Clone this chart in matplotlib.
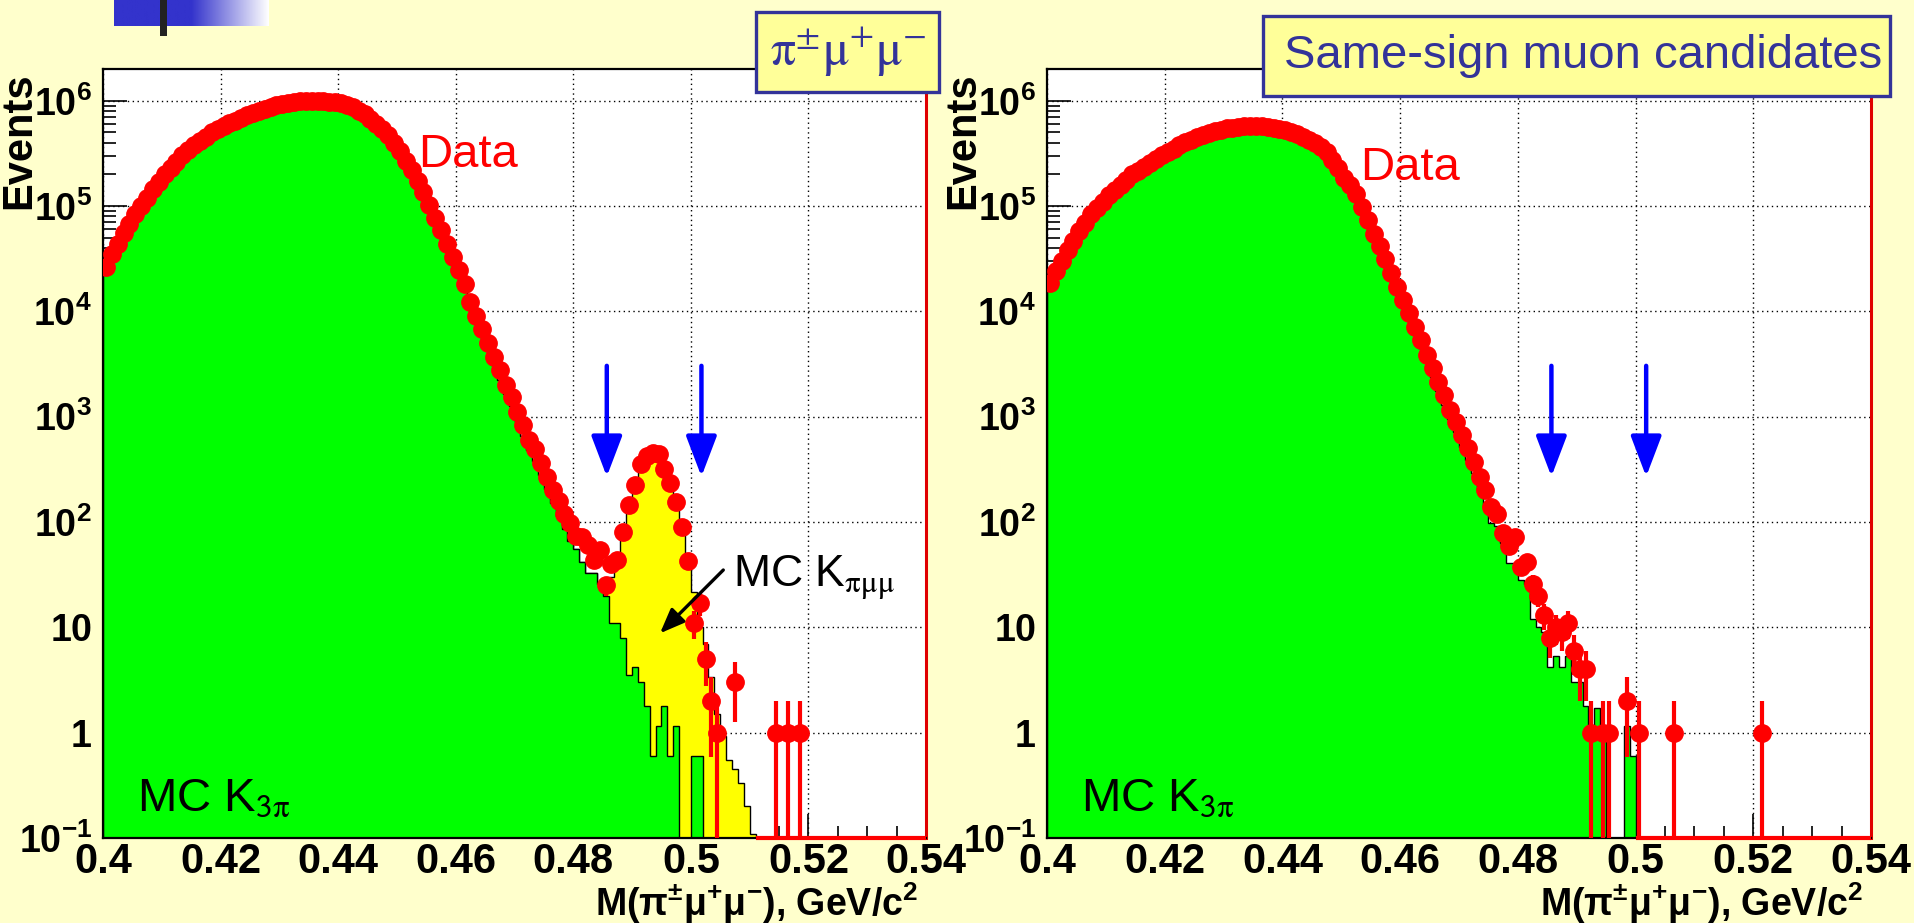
import numpy as np
import matplotlib
matplotlib.use('Agg')
import matplotlib.pyplot as plt
from matplotlib.patches import Rectangle, FancyArrowPatch
from matplotlib.ticker import MultipleLocator, LogLocator, NullFormatter

plt.rcParams['font.family'] = ['Liberation Sans', 'DejaVu Sans']
plt.rcParams['mathtext.fontset'] = 'custom'
plt.rcParams['mathtext.rm'] = 'Liberation Sans'
plt.rcParams['mathtext.bf'] = 'Liberation Sans:bold'
plt.rcParams['mathtext.it'] = 'Liberation Sans:italic'
NARROW = ['Liberation Sans Narrow', 'Liberation Sans']

#-----------------------------------------------------------------------------
# data: 1 MeV bins from 0.400 to 0.540 GeV/c^2

n_bins = 140
mass_lo, mass_hi = 0.40, 0.54

left_data = [26300, 34700, 43600, 55000, 67600, 83200, 100000, 120000, 145000, 170000,
             200000, 229000, 263000, 302000, 339000, 380000, 417000, 457000, 501000, 537000,
             575000, 617000, 646000, 692000, 724000, 759000, 794000, 832000, 871000, 902000,
             933000, 955000, 977000, 989000, 1000000, 1000000, 1000000, 989000, 977000, 966000,
             944000, 912000, 871000, 804000, 741000, 676000, 603000, 537000, 468000, 398000,
             331000, 269000, 219000, 174000, 135000, 102000, 77600, 58900, 43600, 33100,
             24500, 18200, 12300, 9100, 6760, 5010, 3720, 2750, 2000, 1550,
             1120, 830, 600, 490, 363, 270, 200, 158, 120, 98,
             73, 72, 60, 44, 54, 25, 40, 44, 81, 145,
             224, 355, 427, 457, 447, 316, 234, 155, 89, 43,
             11, 17, 5, 2, 1, 0, 0, 3, 0, 0,
             0, 0, 0, 0, 1, 0, 1, 0, 1, 0]

left_k3pi = [25000, 33000, 41500, 52000, 64000, 79000, 95000, 114000, 138000, 161000,
             190000, 218000, 250000, 287000, 322000, 361000, 396000, 434000, 476000, 510000,
             546000, 586000, 614000, 657000, 688000, 721000, 754000, 790000, 827000, 857000,
             886000, 907000, 928000, 940000, 950000, 950000, 950000, 940000, 928000, 918000,
             897000, 866000, 827000, 764000, 704000, 642000, 573000, 510000, 445000, 378000,
             314000, 256000, 208000, 165000, 128000, 97000, 73700, 56000, 41400, 31400,
             23000, 16500, 11000, 8000, 5800, 4300, 3100, 2250, 1650, 1250,
             900, 650, 480, 380, 280, 205, 150, 115, 85, 66,
             55, 42, 33, 33, 26, 20, 11, 11, 8, 3.5,
             4.2, 3.0, 1.8, 0.6, 1.15, 1.8, 0.6, 1.15, 0, 0,
             0.6, 0.6]

left_kpimumu = [0] * 85 + [4, 19, 37, 77, 146,
                           226, 337, 418, 444, 429, 328, 244, 164, 95, 40,
                           21, 9.4, 7, 3.4, 1.5, 0.92, 0.55, 0.45, 0.33, 0.2,
                           0.11]

right_data = [18600, 24000, 30200, 38000, 46800, 57500, 69200, 83200, 95500, 110000,
              126000, 141000, 158000, 178000, 200000, 216000, 234000, 257000, 282000, 302000,
              327000, 351000, 376000, 403000, 427000, 452000, 473000, 495000, 513000, 531000,
              546000, 556000, 565000, 573000, 575000, 575000, 570000, 562000, 552000, 540000,
              525000, 501000, 479000, 457000, 427000, 398000, 367000, 324000, 275000, 229000,
              186000, 158000, 129000, 97700, 74100, 53700, 41700, 31600, 22900, 17000,
              12900, 9550, 7080, 5370, 3890, 2880, 2140, 1600, 1170, 900,
              670, 500, 372, 270, 200, 139, 120, 79, 59, 72,
              37, 42, 26, 20, 13, 8, 10, 9, 11, 6,
              4, 4, 1, 0, 1, 1, 0, 0, 2, 0,
              1, 0, 0, 0, 0, 0, 1, 0, 0, 0,
              0, 0, 0, 0, 0, 0, 0, 0, 0, 0,
              0, 1]

right_k3pi = [17800, 23000, 29000, 36500, 45000, 55000, 66000, 80000, 91500, 105000,
              121000, 135000, 152000, 171000, 192000, 207000, 225000, 247000, 271000, 290000,
              314000, 337000, 361000, 387000, 410000, 434000, 454000, 475000, 492000, 510000,
              524000, 534000, 542000, 550000, 552000, 552000, 547000, 540000, 530000, 518000,
              504000, 481000, 460000, 439000, 410000, 382000, 352000, 311000, 264000, 220000,
              179000, 152000, 124000, 93800, 71100, 51500, 40000, 30300, 22000, 16300,
              12400, 8400, 6100, 4500, 3300, 2400, 1750, 1300, 950, 720,
              520, 390, 290, 200, 140, 98, 91, 63, 41, 41,
              28, 26, 12, 10, 9, 4.2, 5.4, 4.2, 5.4, 3,
              3, 1.8, 1.15, 1.7, 1.15, 0, 0, 0, 1.15, 0.6]

signal_window = [0.4857, 0.5018]

xticks = [0.40, 0.42, 0.44, 0.46, 0.48, 0.50, 0.52, 0.54]
xtick_labels = ['0.4', '0.42', '0.44', '0.46', '0.48', '0.5', '0.52', '0.54']
yticks = [1e-1, 1, 10, 1e2, 1e3, 1e4, 1e5, 1e6]
ytick_labels = [r'$\mathbf{10^{-1}}$', r'$\mathbf{1}$', r'$\mathbf{10}$', r'$\mathbf{10^{2}}$',
                r'$\mathbf{10^{3}}$', r'$\mathbf{10^{4}}$', r'$\mathbf{10^{5}}$', r'$\mathbf{10^{6}}$']

#-----------------------------------------------------------------------------

BG = '#FFFFCC'
BOXFILL = '#FFFF99'
NAVY = '#333399'
W, H = 1915, 923
floor = 1e-3

fig = plt.figure(figsize=(W / 100, H / 100), dpi=100, facecolor=BG)


def fig_rect(x0, y0, x1, y1):
    # pixel box (top-left origin) -> figure fraction
    return [x0 / W, 1 - y1 / H, (x1 - x0) / W, (y1 - y0) / H]


def pad(vals):
    v = np.zeros(n_bins)
    v[:len(vals)] = vals
    return v


edges = np.linspace(mass_lo, mass_hi, n_bins + 1)
centers = 0.5 * (edges[:-1] + edges[1:])


def draw_panel(ax, data, k3pi, kpimumu=None):
    data, k3pi = pad(data), pad(k3pi)
    total = k3pi + (pad(kpimumu) if kpimumu is not None else 0)

    ax.set_facecolor('white')
    ax.set_yscale('log')
    ax.set_xlim(mass_lo, mass_hi)
    ax.set_ylim(0.1, 2e6)
    ax.set_axisbelow(True)

    if kpimumu is not None:
        ax.stairs(np.where(total > 0, total, floor), edges, baseline=floor, fill=True,
                  color='#FFFF00', zorder=1)
        ax.stairs(np.where(total > 0, total, floor), edges, baseline=floor,
                  color='black', lw=1.0, zorder=1.1)
    ax.stairs(np.where(k3pi > 0, k3pi, floor), edges, baseline=floor, fill=True,
              color='#00FF00', zorder=1.2)
    ax.stairs(np.where(k3pi > 0, k3pi, floor), edges, baseline=floor,
              color='black', lw=1.0, zorder=1.3)

    # red data line along empty region at bottom
    last_mc = np.nonzero(total > 0)[0].max()
    ax.plot([edges[last_mc + 1], mass_hi], [0.1, 0.1], color='red', lw=3,
            zorder=3, clip_on=False, solid_capstyle='butt')

    m = data > 0
    y = data[m]
    err = np.sqrt(y)
    lo = np.minimum(err, y - floor)
    ax.errorbar(centers[m], y, yerr=[lo, err], fmt='o', color='red', ms=12.5,
                elinewidth=3.0, capsize=0, zorder=5)

    ax.set_xticks(xticks)
    ax.set_xticklabels(xtick_labels, fontsize=30, fontweight='bold', family=NARROW)
    ax.xaxis.set_minor_locator(MultipleLocator(0.005))
    ax.set_yticks(yticks)
    ax.set_yticklabels(ytick_labels, fontsize=27)
    ax.yaxis.set_minor_locator(LogLocator(base=10, subs=np.arange(2, 10)))
    ax.yaxis.set_minor_formatter(NullFormatter())
    ax.tick_params(which='both', direction='in', top=False, right=False, width=1.2)
    ax.tick_params(which='major', length=17)
    ax.tick_params(which='minor', length=9)
    ax.tick_params(axis='x', pad=3)
    ax.tick_params(axis='y', pad=8)
    ax.grid(True, which='major', color='black', linestyle=(0, (1, 2.5)), lw=1.0)
    for s in ax.spines.values():
        s.set_linewidth(1.6)
    ax.spines['right'].set_color('#E00000')
    ax.spines['right'].set_linewidth(2.2)

    for xc in signal_window:
        ax.add_patch(FancyArrowPatch((xc, 0.614), (xc, 0.470),
                                     transform=ax.get_xaxis_transform(),
                                     arrowstyle='-|>,head_length=25,head_width=9.5',
                                     mutation_scale=1, lw=3.2, color='#0000FF',
                                     shrinkA=0, shrinkB=0, zorder=6))

    ax.text(0.0413, 0.036, r'MC K$_{\mathsf{3}\mathrm{\pi}}$', transform=ax.transAxes,
            fontsize=34, va='baseline', math_fontfamily='stix', zorder=7)


ax1 = fig.add_axes(fig_rect(103, 69, 926, 838))
ax2 = fig.add_axes(fig_rect(1047, 69, 1871, 838))

draw_panel(ax1, left_data, left_k3pi, left_kpimumu)
draw_panel(ax2, right_data, right_k3pi)

ax1.text(0.383, 0.8726, 'Data', transform=ax1.transAxes, color='red', fontsize=34,
         va='baseline', zorder=7)
ax2.text(0.380, 0.8556, 'Data', transform=ax2.transAxes, color='red', fontsize=34,
         va='baseline', zorder=7)

ax1.text(0.7655, 0.3264, r'MC K$_{\mathrm{\pi\mu\mu}}$', transform=ax1.transAxes,
         fontsize=32, va='baseline', math_fontfamily='stix', zorder=7)
ax1.add_patch(FancyArrowPatch((0.7537, 0.3485), (0.6768, 0.2662), transform=ax1.transAxes,
                              arrowstyle='-|>,head_length=15,head_width=6',
                              mutation_scale=1, lw=2.4, color='black',
                              shrinkA=0, shrinkB=0, zorder=7))

for x_axis_left, x_axis_right in [(103, 926), (1047, 1871)]:
    fig.text((x_axis_left - 84) / W, 1 - 72 / H, 'Events', rotation=90, ha='center',
             va='top', fontsize=30, fontweight='bold', family=NARROW)
    fig.text((x_axis_right - 8) / W, 1 - 916 / H,
             r'M($\mathbf{\pi^{\pm}\mu^{+}\mu^{-}}$), GeV/c$\mathbf{^{2}}$',
             ha='right', va='baseline', fontsize=27, fontweight='bold', family=NARROW)

# title boxes
fig.add_artist(Rectangle((756 / W, 1 - 92 / H), 183 / W, 80 / H, transform=fig.transFigure,
                         facecolor=BOXFILL, edgecolor=NAVY, lw=2.4, zorder=10))
fig.text(848 / W, 1 - 52 / H, r'$\mathrm{\pi^{\pm}\mu^{+}\mu^{-}}$', ha='center',
         va='center', fontsize=36, color=NAVY, math_fontfamily='stix', zorder=11)

fig.add_artist(Rectangle((1263 / W, 1 - 96 / H), 627 / W, 80 / H, transform=fig.transFigure,
                         facecolor=BOXFILL, edgecolor=NAVY, lw=2.4, zorder=10))
fig.text(1583 / W, 1 - 56 / H, 'Same-sign muon candidates', ha='center', va='center',
         fontsize=34, color=NAVY, zorder=11)

# slide decoration top-left
logo = fig.add_axes(fig_rect(114, 0, 269, 26))
t = np.linspace(0, 1, 200)
fade = np.clip((t - 0.5) / 0.5, 0, 1)
blue = np.array([0.2, 0.2, 0.8])
row = blue[None, :] * (1 - fade[:, None]) + fade[:, None]
logo.imshow(row[None, :, :], aspect='auto', extent=[0, 1, 0, 1])
logo.set_axis_off()
fig.add_artist(Rectangle((160 / W, 1 - 36 / H), 7 / W, 36 / H, transform=fig.transFigure,
                         facecolor='#222222', edgecolor='none', zorder=12))

fig.savefig('out.png', dpi=100, facecolor=BG)
